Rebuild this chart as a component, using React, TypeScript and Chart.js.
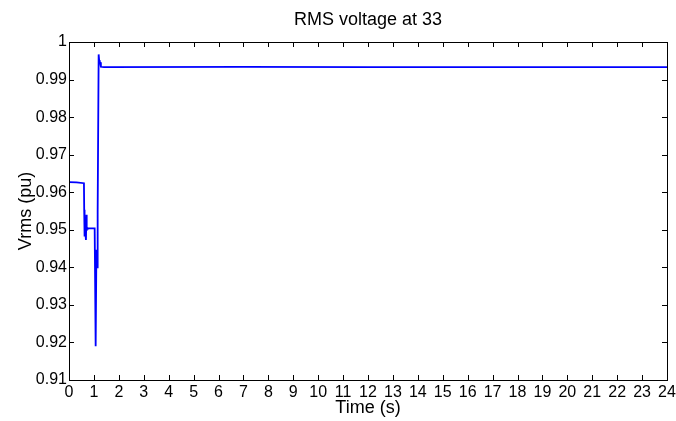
import React, { useEffect, useRef } from "react";
import { Chart, registerables } from "chart.js";

Chart.register(...registerables);

const times = [0, 0.3, 0.6, 0.61, 0.62, 0.63, 0.66, 0.68, 0.7, 0.71, 0.73, 0.76, 0.8, 1.03, 1.05, 1.07, 1.1, 1.13, 1.15, 1.19, 1.21, 1.23, 1.25, 1.28, 1.4, 7, 12, 24];
const volts = [0.9627, 0.9626, 0.9624, 0.9553, 0.9482, 0.9495, 0.9490, 0.9473, 0.954, 0.9498, 0.9505, 0.9504, 0.9504, 0.9504, 0.935, 0.919, 0.9447, 0.940, 0.955, 0.9967, 0.9952, 0.9948, 0.9946, 0.9934, 0.9933, 0.99335, 0.9933, 0.9933];
const xTicks = Array.from({ length: 25 }, (_, i) => i);
const yTicks = [0.91, 0.92, 0.93, 0.94, 0.95, 0.96, 0.97, 0.98, 0.99, 1];

const FONT = "'Liberation Sans', Arial, Helvetica, sans-serif";

const boxPlugin = {
  id: "boxTicks",
  afterDatasetsDraw(chart: any) {
    const { ctx, chartArea } = chart;
    const { left, right, top, bottom } = chartArea;
    const xs = chart.scales.x;
    const ys = chart.scales.y;
    const tl = 5;
    ctx.save();
    ctx.strokeStyle = "#000";
    ctx.lineWidth = 1;
    ctx.beginPath();
    xTicks.forEach((t) => {
      const px = Math.round(xs.getPixelForValue(t)) + 0.5;
      ctx.moveTo(px, bottom);
      ctx.lineTo(px, bottom - tl);
      ctx.moveTo(px, top);
      ctx.lineTo(px, top + tl);
    });
    yTicks.forEach((v) => {
      const py = Math.round(ys.getPixelForValue(v)) + 0.5;
      ctx.moveTo(left, py);
      ctx.lineTo(left + tl, py);
      ctx.moveTo(right, py);
      ctx.lineTo(right - tl, py);
    });
    ctx.stroke();
    ctx.strokeRect(Math.round(left) + 0.5, Math.round(top) + 0.5, Math.round(right - left), Math.round(bottom - top));
    ctx.restore();
  },
};

export default function App() {
  const ref = useRef<HTMLCanvasElement | null>(null);
  useEffect(() => {
    document.body.style.margin = "0";
    const canvas = ref.current;
    if (!canvas) return;
    const chart = new Chart(canvas, {
      type: "line",
      data: {
        datasets: [
          {
            data: times.map((t, i) => ({ x: t, y: volts[i] })),
            borderColor: "#0000ff",
            borderWidth: 1.8,
            pointRadius: 0,
            tension: 0,
            fill: false,
          },
        ],
      },
      options: {
        responsive: false,
        animation: false,
        layout: { padding: { left: 0, right: 9, top: 0, bottom: 0 } },
        plugins: {
          legend: { display: false },
          tooltip: { enabled: false },
          title: {
            display: true,
            fullSize: false,
            text: "RMS voltage at 33",
            color: "#000",
            font: { family: FONT, size: 18, weight: "normal" },
            padding: { top: 9, bottom: 11.4 },
          },
        },
        scales: {
          x: {
            type: "linear",
            min: 0,
            max: 24,
            grid: { display: false, drawTicks: false },
            border: { display: false },
            ticks: {
              stepSize: 1,
              autoSkip: false,
              maxRotation: 0,
              padding: 3,
              color: "#000",
              font: { family: FONT, size: 16 },
            },
            title: {
              display: true,
              text: "Time (s)",
              color: "#000",
              font: { family: FONT, size: 18 },
              padding: { top: 0, bottom: 2.5 },
            },
            afterFit(scale: any) {
              scale.height = 41;
              scale.paddingLeft = 0;
              scale.paddingRight = 0;
            },
          },
          y: {
            type: "linear",
            min: 0.91,
            max: 1,
            grid: { display: false, drawTicks: false },
            border: { display: false },
            afterBuildTicks(scale: any) {
              scale.ticks = yTicks.map((v) => ({ value: v }));
            },
            ticks: {
              padding: 2,
              color: "#000",
              font: { family: FONT, size: 16 },
              callback: (v: any) => String(Number(Number(v).toFixed(2))),
            },
            title: {
              display: true,
              text: "Vrms (pu)",
              color: "#000",
              font: { family: FONT, size: 18 },
              padding: { top: 15, bottom: 0 },
            },
            afterFit(scale: any) {
              scale.width = 69;
              scale.paddingTop = 0;
              scale.paddingBottom = 0;
            },
          },
        },
      },
      plugins: [boxPlugin],
    });
    return () => chart.destroy();
  }, []);
  return <canvas ref={ref} width={676} height={421} style={{ display: "block" }} />;
}
